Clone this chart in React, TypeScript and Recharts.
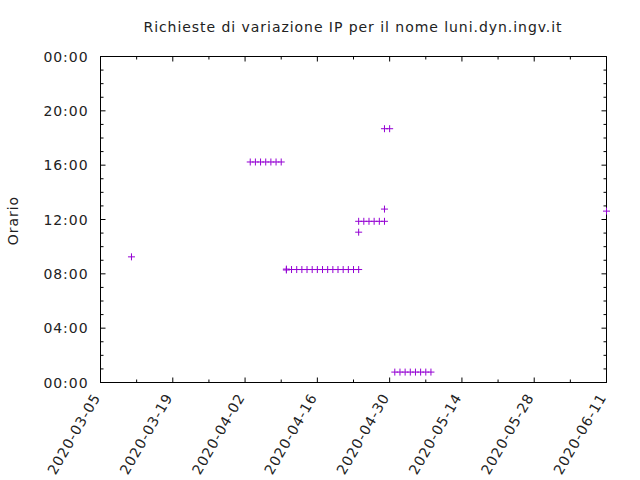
import { ScatterChart, Scatter, XAxis, YAxis, ReferenceArea } from 'recharts';

// each request: day and time of day
const dates = [
  '2020-03-11',
  '2020-04-03', '2020-04-04', '2020-04-05', '2020-04-06', '2020-04-07', '2020-04-08', '2020-04-09',
  '2020-04-10', '2020-04-10', '2020-04-11', '2020-04-12', '2020-04-13', '2020-04-14', '2020-04-15',
  '2020-04-16', '2020-04-17', '2020-04-18', '2020-04-19', '2020-04-20', '2020-04-21', '2020-04-22',
  '2020-04-23', '2020-04-24',
  '2020-04-24', '2020-04-24', '2020-04-25', '2020-04-26', '2020-04-27', '2020-04-28', '2020-04-29',
  '2020-04-29', '2020-04-29', '2020-04-30',
  '2020-05-01', '2020-05-02', '2020-05-03', '2020-05-04', '2020-05-05', '2020-05-06', '2020-05-07',
  '2020-05-08',
  '2020-06-11',
];
const times = [
  '09:15',
  '16:14', '16:14', '16:14', '16:14', '16:14', '16:14', '16:14',
  '08:17', '08:21', '08:19', '08:19', '08:19', '08:19', '08:19',
  '08:19', '08:19', '08:19', '08:19', '08:19', '08:19', '08:19',
  '08:19', '08:19',
  '11:04', '11:52', '11:52', '11:52', '11:52', '11:52', '11:52',
  '12:46', '18:41', '18:41',
  '00:46', '00:46', '00:46', '00:46', '00:46', '00:46', '00:46',
  '00:46',
  '12:37',
];

const xStart = '2020-03-05';
const xEnd = '2020-06-11';
const hourTicks = [0, 1, 2, 3, 4, 5, 6, 7, 8, 9, 10, 11, 12, 13, 14, 15, 16, 17, 18, 19, 20, 21, 22, 23, 24];

const toDay = (s: string) => {
  const [y, m, d] = s.split('-').map(Number);
  return Date.UTC(y, m - 1, d) / 86400000;
};
const toHour = (s: string) => {
  const [h, m] = s.split(':').map(Number);
  return h + m / 60;
};
const fmtDay = (v: number) => new Date(v * 86400000).toISOString().slice(0, 10);
const fmtHour = (v: number) => String(v % 24).padStart(2, '0') + ':00';

const d0 = toDay(xStart);
const d1 = toDay(xEnd);
const dayTicks: number[] = [];
for (let d = d0; d <= d1; d += 7) dayTicks.push(d);

const data = dates.map((d, i) => ({ x: toDay(d), y: toHour(times[i]) }));

const FONT = 'DejaVu Sans';
const PURPLE = '#9400d3';
const LS = 0.95;

// plot box size, so the tick marks can be mirrored on top / right like gnuplot
const MARGIN = { top: 56.5, left: 40.5, right: 33.5, bottom: 57.5 };
const Y_AXIS_W = 60;
const X_AXIS_H = 40;
const PLOT_W = 640 - MARGIN.left - MARGIN.right - Y_AXIS_W;
const PLOT_H = 480 - MARGIN.top - MARGIN.bottom - X_AXIS_H;

const BottomTick = (p: any) => {
  const major = (p.payload.value - d0) % 14 === 0;
  const len = major ? 5 : 3;
  return (
    <g>
      <line x1={p.x} y1={p.y} x2={p.x} y2={p.y - len} stroke="#000" />
      <line x1={p.x} y1={p.y - PLOT_H} x2={p.x} y2={p.y - PLOT_H + len} stroke="#000" />
      {major && (
        <text
          x={p.x - 4}
          y={p.y + 12}
          textAnchor="end"
          dominantBaseline="central"
          transform={`rotate(-60 ${p.x - 4} ${p.y + 12})`}
          fontFamily={FONT}
          fontSize={14}
          letterSpacing={LS}
          fill="#222"
        >
          {fmtDay(p.payload.value)}
        </text>
      )}
    </g>
  );
};
const LeftTick = (p: any) => {
  const major = p.payload.value % 4 === 0;
  const len = major ? 5 : 3;
  return (
    <g>
      <line x1={p.x} y1={p.y} x2={p.x + len} y2={p.y} stroke="#000" />
      <line x1={p.x + PLOT_W} y1={p.y} x2={p.x + PLOT_W - len} y2={p.y} stroke="#000" />
      {major && (
        <text
          x={p.x - 12}
          y={p.y}
          dy={5}
          textAnchor="end"
          fontFamily={FONT}
          fontSize={14}
          letterSpacing={LS}
          fill="#222"
        >
          {fmtHour(p.payload.value)}
        </text>
      )}
    </g>
  );
};

const Plus = (p: any) => (
  <path
    d={`M${p.cx - 3.5},${p.cy}h7M${p.cx},${p.cy - 3.5}v7`}
    stroke={PURPLE}
    strokeWidth={1}
    fill="none"
  />
);

const App = () => {
  return (
    <div style={{ position: 'absolute', left: 0, top: 0, width: 640, height: 480, background: '#fff' }}>
      <div
        style={{
          position: 'absolute',
          left: 0,
          top: 19,
          width: 706,
          textAlign: 'center',
          fontFamily: FONT,
          fontSize: 14,
          letterSpacing: LS,
          color: '#222',
        }}
      >
        Richieste di variazione IP per il nome luni.dyn.ingv.it
      </div>
      <ScatterChart width={640} height={480} margin={MARGIN}>
        <XAxis
          dataKey="x"
          type="number"
          domain={[d0, d1]}
          ticks={dayTicks}
          interval={0}
          height={X_AXIS_H}
          tickLine={false}
          tickSize={0}
          tickMargin={0}
          tick={BottomTick}
          axisLine={{ stroke: '#000' }}
        />
        <YAxis
          dataKey="y"
          type="number"
          domain={[0, 24]}
          ticks={hourTicks}
          interval={0}
          width={Y_AXIS_W}
          tickLine={false}
          tickSize={0}
          tickMargin={0}
          tick={LeftTick}
          axisLine={{ stroke: '#000' }}
          label={(props: any) => {
            const vb = props.viewBox;
            const cx = 18;
            const cy = vb.y + vb.height / 2 + 1;
            return (
              <text
                x={cx}
                y={cy}
                textAnchor="middle"
                transform={`rotate(-90 ${cx} ${cy})`}
                fontFamily={FONT}
                fontSize={14}
                letterSpacing={LS}
                fill="#222"
              >
                Orario
              </text>
            );
          }}
        />
        <ReferenceArea
          x1={d0}
          x2={d1}
          y1={0}
          y2={24}
          fill="none"
          stroke="#000"
          strokeOpacity={1}
          fillOpacity={0}
        />
        <Scatter data={data} shape={Plus} isAnimationActive={false} />
      </ScatterChart>
    </div>
  );
};

export default App;
